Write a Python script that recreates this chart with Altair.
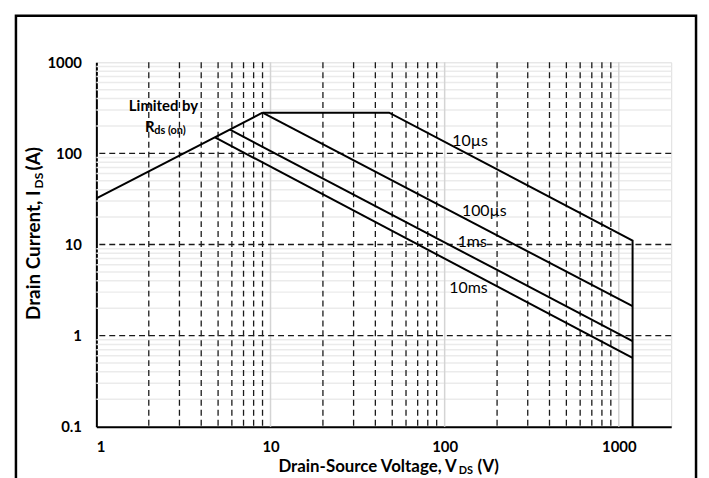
import altair as alt
import pandas as pd

# ---- data ----
rds_v = [1, 9]
rds_i = [32, 280]
us10_v = [9, 48, 1200, 1200]
us10_i = [280, 280, 11, 0.1]
us100_v = [9, 1200]
us100_i = [280, 2.1]
ms1_v = [5.85, 1200]
ms1_i = [182, 0.87]
ms10_v = [4.8, 1200]
ms10_i = [150, 0.57]

x_ticks = [1, 10, 100, 1000]
y_ticks = [0.1, 1, 10, 100, 1000]
x_major_grid = [10, 100, 1000]
x_minor_grid = [2, 3, 4, 5, 6, 7, 8, 9, 20, 30, 40, 50, 60, 70, 80, 90,
                200, 300, 400, 500, 600, 700, 800, 900]
y_major_grid = [1, 10, 100]
y_minor_grid = [0.2, 0.3, 0.4, 0.5, 0.6, 0.7, 0.8, 0.9,
                2, 3, 4, 5, 6, 7, 8, 9, 20, 30, 40, 50, 60, 70, 80, 90,
                200, 300, 400, 500, 600, 700, 800, 900]

label_text = ["10µs", "100µs", "1ms", "10ms"]
label_v = [140, 169, 144, 137]
label_i = [138, 23.2, 10.6, 3.36]

note_text = ["Limited by"]
note_v = [2.43]
note_i = [331]
r_text = ["R"]
r_v = [1.90]
r_i = [196]
sub_text = ["ds (on)"]
sub_v = [2.15]
sub_i = [176]

# ---- tables ----
rows = []
for name, vs, is_ in [("rds", rds_v, rds_i), ("10us", us10_v, us10_i),
                      ("100us", us100_v, us100_i), ("1ms", ms1_v, ms1_i),
                      ("10ms", ms10_v, ms10_i)]:
    for k, (v, i) in enumerate(zip(vs, is_)):
        rows.append({"series": name, "order": k, "V": v, "I": i})
curves = pd.DataFrame(rows)

FONT = "Lato"

xscale = alt.Scale(type="log", domain=[1, 2000], nice=False)
yscale = alt.Scale(type="log", domain=[0.1, 1000], nice=False)
x_axis = alt.Axis(values=x_ticks, title=None, grid=False, ticks=False,
                  labelFont=FONT, labelFontSize=15, labelFontWeight="bold",
                  labelColor="black", labelPadding=13, domainColor="black",
                  domainWidth=2, labelExpr="datum.value + ''")
y_axis = alt.Axis(values=y_ticks, title=None, grid=False, ticks=False,
                  labelFont=FONT, labelFontSize=15, labelFontWeight="bold",
                  labelColor="black", labelPadding=15, domainColor="black",
                  domainWidth=2, labelExpr="datum.value + ''")


def X(field):
    return alt.X(field, type="quantitative", scale=xscale, axis=x_axis)


def Y(field):
    return alt.Y(field, type="quantitative", scale=yscale, axis=y_axis)


hminor = alt.Chart(pd.DataFrame({"y": y_minor_grid})).mark_rule(
    color="#ebebeb", strokeWidth=1.5).encode(y=Y("y"))
vmajor = alt.Chart(pd.DataFrame({"x": x_major_grid})).mark_rule(
    color="#d4d4d4", strokeWidth=1.5).encode(x=X("x"))
vminor = alt.Chart(pd.DataFrame({"x": x_minor_grid})).mark_rule(
    color="#1a1a1a", strokeWidth=1.3, strokeDash=[6, 4]).encode(x=X("x"))
hmajor = alt.Chart(pd.DataFrame({"y": y_major_grid})).mark_rule(
    color="#1a1a1a", strokeWidth=1.3, strokeDash=[6, 4]).encode(y=Y("y"))

lines = alt.Chart(curves).mark_line(color="black", strokeWidth=2).encode(
    x=X("V"), y=Y("I"), detail="series:N", order="order:Q")

labels = alt.Chart(pd.DataFrame({"t": label_text, "V": label_v, "I": label_i})).mark_text(
    font=FONT, fontSize=16, color="black", align="center", baseline="middle").encode(
    x=X("V"), y=Y("I"), text="t:N")

note = alt.Chart(pd.DataFrame({"t": note_text, "V": note_v, "I": note_i})).mark_text(
    font=FONT, fontSize=15, fontWeight="bold", color="black", align="center",
    baseline="middle").encode(x=X("V"), y=Y("I"), text="t:N")
rlab = alt.Chart(pd.DataFrame({"t": r_text, "V": r_v, "I": r_i})).mark_text(
    font=FONT, fontSize=15, fontWeight="bold", color="black", align="left",
    baseline="middle").encode(x=X("V"), y=Y("I"), text="t:N")
slab = alt.Chart(pd.DataFrame({"t": sub_text, "V": sub_v, "I": sub_i})).mark_text(
    font=FONT, fontSize=11, fontWeight="bold", color="black", align="left",
    baseline="middle").encode(x=X("V"), y=Y("I"), text="t:N")

one = pd.DataFrame({"a": [0]})


def txt(s, x, y, size, align, angle=0):
    return alt.Chart(one).mark_text(
        text=s, font=FONT, fontSize=size, fontWeight="bold", color="black",
        align=align, baseline="middle", angle=angle).encode(
        x=alt.value(x), y=alt.value(y))


xt1 = txt("Drain-Source Voltage, V", 363, 408, 17, "right")
xt2 = txt("DS", 365, 412, 11, "left")
xt3 = txt("(V)", 384, 408, 17, "left")
yt1 = txt("Drain Current, I", -63, 129, 19, "right", 270)
yt2 = txt("DS", -58, 127, 12, "left", 270)
yt3 = txt("(A)", -63, 109, 19, "left", 270)

frame = alt.Chart(one).mark_rect(fillOpacity=0, stroke="black", strokeWidth=2.5).encode(
    x=alt.value(-81), x2=alt.value(604), y=alt.value(-47), y2=alt.value(450))

chart = alt.layer(hminor, vmajor, vminor, hmajor, lines, labels, note, rlab, slab,
                  xt1, xt2, xt3, yt1, yt2, yt3, frame).properties(
    width=579, height=367,
    autosize=alt.AutoSizeParams(type="none"),
    padding={"left": 89, "top": 53, "right": 30, "bottom": 50},
).configure_view(stroke="#333333", strokeWidth=1.5).configure(background="white")

chart.save("out.html", embed_options={"renderer": "svg", "actions": False})
